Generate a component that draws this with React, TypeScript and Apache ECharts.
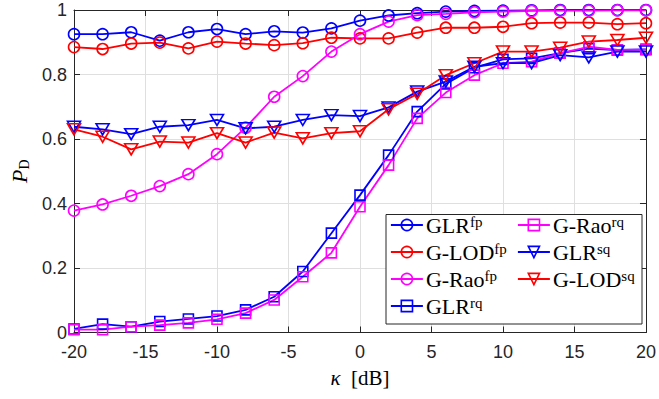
import React, { useEffect, useRef } from "react";
import * as echarts from "echarts";

const kappa = [-20, -18, -16, -14, -12, -10, -8, -6, -4, -2, 0, 2, 4, 6, 8, 10, 12, 14, 16, 18, 20];
const glrFp = [0.925, 0.925, 0.931, 0.905, 0.931, 0.941, 0.925, 0.934, 0.93, 0.943, 0.967, 0.983, 0.99, 0.995, 0.997, 0.998, 0.999, 1.0, 1.0, 1.0, 1.0];
const lodFp = [0.885, 0.879, 0.896, 0.899, 0.881, 0.902, 0.896, 0.891, 0.897, 0.914, 0.912, 0.912, 0.93, 0.945, 0.945, 0.948, 0.959, 0.961, 0.961, 0.956, 0.959];
const raoFp = [0.378, 0.397, 0.424, 0.454, 0.491, 0.553, 0.635, 0.731, 0.795, 0.871, 0.925, 0.964, 0.984, 0.988, 0.993, 0.995, 0.997, 0.998, 0.998, 0.999, 0.999];
const glrRq = [0.011, 0.026, 0.018, 0.034, 0.042, 0.051, 0.07, 0.111, 0.189, 0.308, 0.426, 0.55, 0.685, 0.771, 0.821, 0.847, 0.85, 0.866, 0.88, 0.876, 0.878];
const raoRq = [0.009, 0.009, 0.018, 0.023, 0.03, 0.041, 0.06, 0.101, 0.173, 0.247, 0.39, 0.519, 0.664, 0.744, 0.798, 0.835, 0.84, 0.866, 0.886, 0.876, 0.877];
const glrSq = [0.638, 0.63, 0.615, 0.638, 0.643, 0.659, 0.633, 0.638, 0.659, 0.674, 0.671, 0.698, 0.747, 0.778, 0.824, 0.835, 0.835, 0.86, 0.853, 0.871, 0.871];
const lodSq = [0.63, 0.607, 0.568, 0.592, 0.589, 0.618, 0.589, 0.62, 0.602, 0.618, 0.624, 0.692, 0.74, 0.798, 0.835, 0.871, 0.871, 0.883, 0.902, 0.907, 0.914];

const seriesNames = ["GLR-fp", "G-LOD-fp", "G-Rao-fp", "GLR-rq", "G-Rao-rq", "GLR-sq", "G-LOD-sq"];
const legendLabels: Record<string, string> = {
  "GLR-fp": "{n|GLR}{sup|fp}",
  "G-LOD-fp": "{n|G-LOD}{sup|fp}",
  "G-Rao-fp": "{n|G-Rao}{sup|fp}",
  "GLR-rq": "{n|GLR}{sup|rq}",
  "G-Rao-rq": "{n|G-Rao}{sup|rq}",
  "GLR-sq": "{n|GLR}{sup|sq}",
  "G-LOD-sq": "{n|G-LOD}{sup|sq}",
};

const BLUE = "#0000ff";
const RED = "#ff0000";
const MAG = "#ff00ff";
const AX = "#262626";
const SERIF = "'Liberation Serif', 'DejaVu Serif', serif";
const SANS = "'Liberation Sans', Arial, sans-serif";

function mk(name: string, vals: number[], color: string, kind: "circle" | "square" | "tri") {
  const symbol = kind === "circle" ? "circle" : kind === "square" ? "rect" : "triangle";
  const symbolSize = kind === "circle" ? 11 : kind === "square" ? 10 : [13, 11];
  return {
    name,
    type: "line",
    data: kappa.map((k, i) => [k, vals[i]]),
    symbol,
    symbolSize,
    symbolRotate: kind === "tri" ? 180 : 0,
    lineStyle: { color, width: 1.8 },
    itemStyle: { color: "rgba(0,0,0,0)", borderColor: color, borderWidth: 1.6 },
    emphasis: { disabled: true },
  };
}

export default function App() {
  const ref = useRef<HTMLDivElement>(null);
  useEffect(() => {
    if (!ref.current) return;
    const chart = echarts.init(ref.current, null, { renderer: "svg" });
    const legendCommon = {
      orient: "vertical",
      itemWidth: 32,
      itemHeight: 14,
      itemGap: 5,
      padding: 0,
      selectedMode: false,
      itemStyle: { borderWidth: 1.6 },
      lineStyle: { width: 1.8 },
      formatter: (n: string) => legendLabels[n] || n,
      textStyle: {
        fontFamily: SERIF,
        fontSize: 22,
        color: "#000",
        lineHeight: 22,
        padding: [0, 0, 0, -2],
        rich: {
          n: { fontFamily: SERIF, fontSize: 22, lineHeight: 22, color: "#000" },
          sup: { fontFamily: SERIF, fontSize: 15, lineHeight: 14, verticalAlign: "top", color: "#000" },
        },
      },
    };
    chart.setOption({
      animation: false,
      backgroundColor: "#ffffff",
      grid: { left: 68, top: 10, width: 583, height: 322.5, containLabel: false },
      graphic: [
        {
          type: "rect",
          shape: { x: 386, y: 214.5, width: 256, height: 109.5 },
          style: { fill: "#ffffff", stroke: AX, lineWidth: 1 },
          z: 90,
        },
      ],
      legend: [
        { ...legendCommon, left: 390, top: 214, data: seriesNames.slice(0, 4), z: 100 },
        { ...legendCommon, left: 517, top: 214, data: seriesNames.slice(4), z: 100 },
      ],
      xAxis: [
        {
          type: "value",
          min: -20,
          max: 20,
          interval: 5,
          name: "{k|κ}  [dB]",
          nameLocation: "middle",
          nameGap: 35,
          nameTextStyle: {
            fontFamily: SERIF,
            fontSize: 21,
            color: "#000",
            rich: { k: { fontFamily: SERIF, fontStyle: "italic", fontSize: 21, color: "#000" } },
          },
          axisLine: { show: true, onZero: false, lineStyle: { color: AX, width: 1 } },
          axisTick: { show: true, inside: true, length: 6, lineStyle: { color: AX } },
          axisLabel: { fontFamily: SANS, fontSize: 18, color: AX, margin: 10 },
          splitLine: { show: true, lineStyle: { color: "#dfdfdf", width: 1 } },
        },
        {
          type: "value",
          position: "top",
          min: -20,
          max: 20,
          interval: 5,
          axisLine: { show: true, onZero: false, lineStyle: { color: AX, width: 1 } },
          axisTick: { show: true, inside: true, length: 6, lineStyle: { color: AX } },
          axisLabel: { show: false },
          splitLine: { show: false },
        },
      ],
      yAxis: [
        {
          type: "value",
          min: 0,
          max: 1,
          interval: 0.2,
          name: "{p|P}{d|D}",
          nameLocation: "middle",
          nameRotate: 90,
          nameGap: 43,
          nameTextStyle: {
            color: "#000",
            rich: {
              p: { fontFamily: SERIF, fontStyle: "italic", fontSize: 22, color: "#000", lineHeight: 24 },
              d: { fontFamily: SERIF, fontSize: 14, color: "#000", lineHeight: 14, verticalAlign: "bottom" },
            },
          },
          axisLine: { show: true, onZero: false, lineStyle: { color: AX, width: 1 } },
          axisTick: { show: true, inside: true, length: 6, lineStyle: { color: AX } },
          axisLabel: {
            fontFamily: SANS,
            fontSize: 18,
            color: AX,
            margin: 7,
            formatter: (v: number) => (v === 0 ? "0" : v === 1 ? "1" : v.toFixed(1)),
          },
          splitLine: { show: true, lineStyle: { color: "#dfdfdf", width: 1 } },
        },
        {
          type: "value",
          position: "right",
          min: 0,
          max: 1,
          interval: 0.2,
          axisLine: { show: true, onZero: false, lineStyle: { color: AX, width: 1 } },
          axisTick: { show: true, inside: true, length: 6, lineStyle: { color: AX } },
          axisLabel: { show: false },
          splitLine: { show: false },
        },
      ],
      series: [
        mk("GLR-fp", glrFp, BLUE, "circle"),
        mk("G-LOD-fp", lodFp, RED, "circle"),
        mk("G-Rao-fp", raoFp, MAG, "circle"),
        mk("GLR-rq", glrRq, BLUE, "square"),
        mk("G-Rao-rq", raoRq, MAG, "square"),
        mk("GLR-sq", glrSq, BLUE, "tri"),
        mk("G-LOD-sq", lodSq, RED, "tri"),
      ],
    });
    return () => chart.dispose();
  }, []);
  return (
    <div
      ref={ref}
      style={{ position: "fixed", left: 0, top: 0, width: 659, height: 399, background: "#fff" }}
    />
  );
}
